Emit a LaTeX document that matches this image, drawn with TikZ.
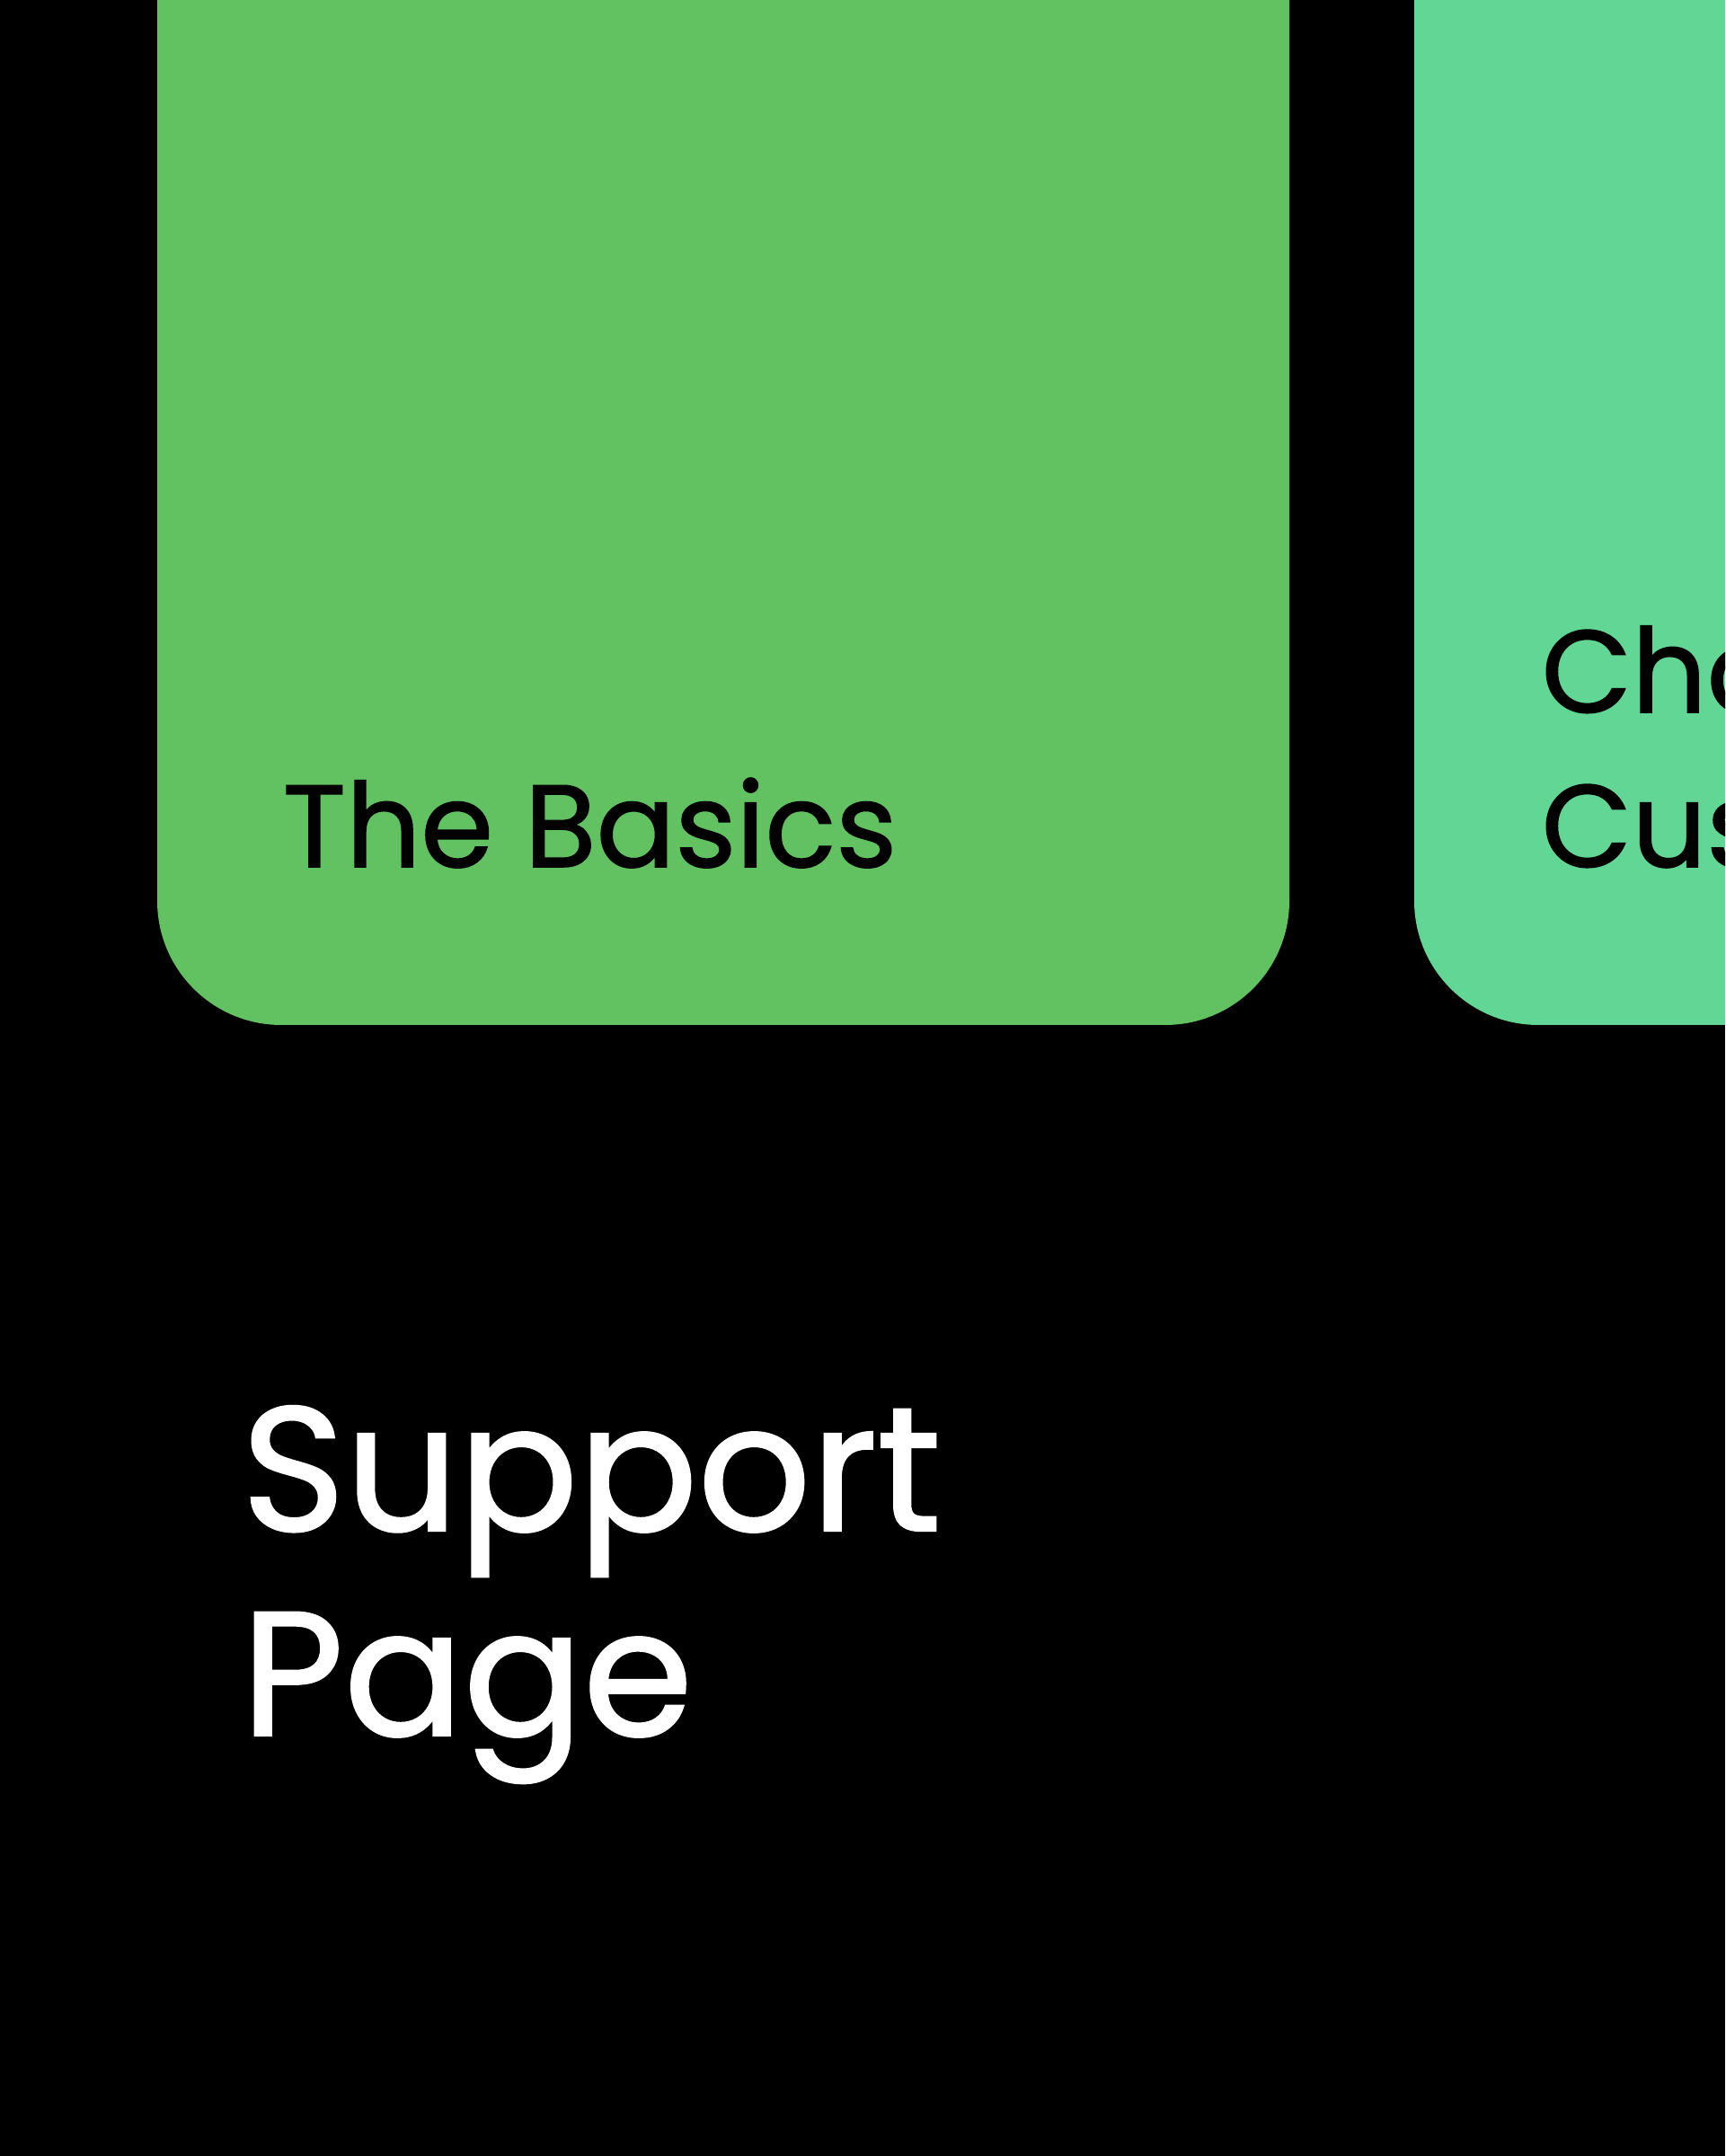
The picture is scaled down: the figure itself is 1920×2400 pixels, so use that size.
\documentclass[tikz,border=0pt]{standalone}
\usepackage{fontspec}
\setmainfont{Poppins}[FakeBold=1.2]
\definecolor{basics}{HTML}{62C262}
\definecolor{custom}{HTML}{62D695}
\tikzset{
  card/.style={rounded corners=1.38cm},
  cardtext/.style={anchor=base west, inner sep=0pt, font=\fontsize{37}{47}\selectfont},
  titletext/.style={anchor=base west, inner sep=0pt, text=white, font=\fontsize{56}{67}\selectfont}
}
\begin{document}
\begin{tikzpicture}[x=0.01cm, y=0.01cm]
    \useasboundingbox (0,0) rectangle (1920,2400);
    \clip (0,0) rectangle (1920,2400);
    \fill[black] (0,0) rectangle (1920,2400); % background

    % cards
    \fill[basics,card] (175,1259) rectangle (1435,2600);
    \fill[custom,card] (1574,1259) rectangle (2800,2600);

    \node[cardtext] (basics) at (314,1435) {The Basics};
    \node[cardtext] (choose) at (1715,1607) {Choose a};
    \node[cardtext] (custom) at (1715,1435) {Custom Plan};

    % title
    \node[titletext] (support) at (268,696) {Support};
    \node[titletext] (page) at (268,468) {Page};
\end{tikzpicture}
\end{document}
